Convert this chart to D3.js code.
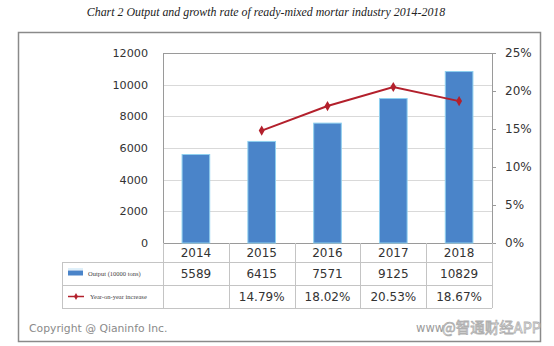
<!DOCTYPE html>
<html>
<head>
<meta charset="utf-8">
<script src="https://cdn.jsdelivr.net/npm/d3@7/dist/d3.min.js"></script>
<style>
  html, body { margin: 0; padding: 0; background: #fff; }
  svg { display: block; }
</style>
</head>
<body>
<svg id="chart" width="554" height="346"></svg>
<script>
// Ready-mixed mortar output (10000 tons) and year-on-year growth, 2014-2018
const years = ["2014", "2015", "2016", "2017", "2018"];
const output = [5589, 6415, 7571, 9125, 10829];
const growth = [null, 14.79, 18.02, 20.53, 18.67];
const outputTicks = [0, 2000, 4000, 6000, 8000, 10000, 12000];
const growthTicks = [0, 5, 10, 15, 20, 25];
const outputLabels = ["5589", "6415", "7571", "9125", "10829"];
const growthLabels = ["", "14.79%", "18.02%", "20.53%", "18.67%"];

const svg = d3.select("#chart");
const sans = "'DejaVu Sans', Verdana, sans-serif";
const serif = "'Liberation Serif', 'Times New Roman', serif";

// plot frame
const P = { left: 163, right: 492, top: 53, bottom: 243 };
const rows = [243, 262, 285, 308];   // table row boundaries
const tableLeft = 62;

// title
svg.append("text")
  .attr("x", 266).attr("y", 16)
  .attr("text-anchor", "middle")
  .attr("font-family", serif).attr("font-style", "italic")
  .attr("font-size", 11.9).attr("fill", "#222")
  .text("Chart 2 Output and growth rate of ready-mixed mortar industry 2014-2018");

// outer border
svg.append("rect")
  .attr("x", 18.5).attr("y", 32.5).attr("width", 522).attr("height", 309)
  .attr("fill", "#fff").attr("stroke", "#8a8a8a").attr("stroke-width", 1.5);

const x = d3.scaleBand().domain(years).range([P.left, P.right]).padding(0);
const yL = d3.scaleLinear().domain([0, 12000]).range([P.bottom, P.top]);
const yR = d3.scaleLinear().domain([0, 25]).range([P.bottom, P.top]);

// gridlines
svg.append("g").selectAll("line").data(outputTicks).join("line")
  .attr("x1", P.left).attr("x2", P.right)
  .attr("y1", d => Math.round(yL(d)) + 0.5).attr("y2", d => Math.round(yL(d)) + 0.5)
  .attr("stroke", "#d9d9d9").attr("stroke-width", 1);

// plot area border
svg.append("rect")
  .attr("x", P.left + 0.5).attr("y", P.top + 0.5)
  .attr("width", P.right - P.left).attr("height", P.bottom - P.top)
  .attr("fill", "none").attr("stroke", "#9a9a9a").attr("stroke-width", 1);

// left axis
const leftAxis = svg.append("g")
  .attr("transform", `translate(${P.left},0)`)
  .call(d3.axisLeft(yL).tickValues(outputTicks).tickSize(0).tickPadding(15).tickFormat(d3.format("d")));
leftAxis.select(".domain").remove();
leftAxis.selectAll("text").attr("font-family", sans).attr("font-size", 11.2).attr("fill", "#333");

// right axis
const rightAxis = svg.append("g")
  .attr("transform", `translate(${P.right},0)`)
  .call(d3.axisRight(yR).tickValues(growthTicks).tickSize(4).tickPadding(9).tickFormat(d => d + "%"));
rightAxis.select(".domain").remove();
rightAxis.selectAll("line").attr("stroke", "#9a9a9a");
rightAxis.selectAll("text").attr("font-family", sans).attr("font-size", 12).attr("fill", "#333");

// bars
const barW = x.bandwidth() * 0.42;
svg.append("g").selectAll("rect").data(years).join("rect")
  .attr("x", d => x(d) + (x.bandwidth() - barW) / 2)
  .attr("y", (d, i) => yL(output[i]))
  .attr("width", barW)
  .attr("height", (d, i) => yL(0) - yL(output[i]))
  .attr("fill", "#4a84c9")
  .attr("stroke", "#8fd0ef").attr("stroke-width", 1);

// growth line
const pts = years.map((d, i) => ({ year: d, v: growth[i] })).filter(p => p.v !== null);
const cx = d => x(d.year) + x.bandwidth() / 2;
svg.append("path")
  .datum(pts)
  .attr("d", d3.line().x(cx).y(d => yR(d.v)))
  .attr("fill", "none").attr("stroke", "#b3202c").attr("stroke-width", 2);
svg.append("g").selectAll("path").data(pts).join("path")
  .attr("transform", d => `translate(${cx(d)},${yR(d.v)})`)
  .attr("d", d3.symbol(d3.symbolDiamond, 30)())
  .attr("fill", "#b3202c");

// data table grid
const grid = svg.append("g").attr("stroke", "#c4c4c4").attr("stroke-width", 1);
[rows[1], rows[2], rows[3]].forEach(y => {
  grid.append("line").attr("x1", tableLeft).attr("x2", P.right)
    .attr("y1", y + 0.5).attr("y2", y + 0.5);
});
grid.append("line").attr("x1", tableLeft + 0.5).attr("x2", tableLeft + 0.5)
  .attr("y1", rows[1]).attr("y2", rows[3]);
const colEdges = years.map(d => x(d)).concat([P.right]);
colEdges.forEach(cxv => {
  grid.append("line").attr("x1", Math.round(cxv) + 0.5).attr("x2", Math.round(cxv) + 0.5)
    .attr("y1", rows[0]).attr("y2", rows[3]);
});

// table text
const tableRows = [
  { labels: years, y: (rows[0] + rows[1]) / 2 },
  { labels: outputLabels, y: (rows[1] + rows[2]) / 2 },
  { labels: growthLabels, y: (rows[2] + rows[3]) / 2 }
];
tableRows.forEach(r => {
  svg.append("g").selectAll("text").data(years).join("text")
    .attr("x", d => x(d) + x.bandwidth() / 2)
    .attr("y", r.y)
    .attr("dy", "0.36em")
    .attr("text-anchor", "middle")
    .attr("font-family", sans).attr("font-size", 12).attr("fill", "#333")
    .text((d, i) => r.labels[i]);
});

// legend keys inside the table
const ly1 = (rows[1] + rows[2]) / 2;
svg.append("rect").attr("x", 68).attr("y", ly1 - 3).attr("width", 15).attr("height", 5)
  .attr("fill", "#4a84c9");
svg.append("line").attr("x1", 68).attr("x2", 83).attr("y1", ly1 - 4.5).attr("y2", ly1 - 4.5)
  .attr("stroke", "#bfe0f4").attr("stroke-width", 1);
svg.append("text").attr("x", 88).attr("y", ly1).attr("dy", "0.35em")
  .attr("font-family", serif).attr("font-size", 6.5).attr("fill", "#444")
  .text("Output (10000 tons)");

const ly2 = (rows[2] + rows[3]) / 2;
svg.append("line").attr("x1", 68).attr("x2", 84).attr("y1", ly2).attr("y2", ly2)
  .attr("stroke", "#b3202c").attr("stroke-width", 1.5);
svg.append("path").attr("transform", `translate(76,${ly2})`)
  .attr("d", d3.symbol(d3.symbolDiamond, 14)()).attr("fill", "#b3202c");
svg.append("text").attr("x", 90).attr("y", ly2).attr("dy", "0.35em")
  .attr("font-family", serif).attr("font-size", 6.5).attr("fill", "#444")
  .text("Year-on-year increase");

// footer
svg.append("text").attr("x", 29).attr("y", 332)
  .attr("font-family", sans).attr("font-size", 10.8).attr("fill", "#8a8a8a")
  .text("Copyright @ Qianinfo Inc.");
svg.append("text").attr("x", 416).attr("y", 332)
  .attr("font-family", sans).attr("font-size", 11.5).attr("fill", "#9a9a9a")
  .text("www");
svg.append("text").attr("x", 541).attr("y", 333)
  .attr("text-anchor", "end")
  .attr("font-family", "'Noto Sans CJK SC', sans-serif").attr("font-size", 14.5)
  .attr("fill", "none").attr("stroke", "#b0b0b0").attr("stroke-width", 0.8)
  .text("@智通财经APP");
</script>
</body>
</html>
